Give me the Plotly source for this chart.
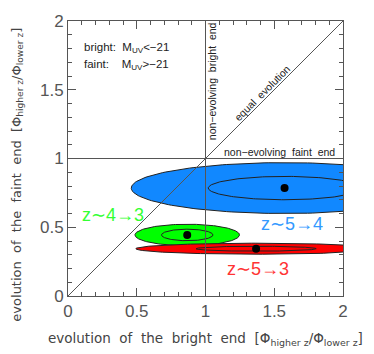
import numpy as np
import plotly.graph_objects as go

# data
series = ["z~5→4", "z~4→3", "z~5→3"]
center_x = [1.575, 0.867, 1.368]
center_y = [0.785, 0.444, 0.344]
outer_hw = [1.115, 0.38, 0.875]
outer_hh = [0.185, 0.078, 0.040]
inner_hw = [0.555, 0.187, 0.437]
inner_hh = [0.085, 0.042, 0.018]
fill_colors = ["#1188ff", "#00ff00", "#ff0000"]
label_colors = ["#3399ff", "#33ff33", "#ff3333"]
label_x = [1.63, 0.326, 1.38]
label_y = [0.524, 0.589, 0.196]

ref_x = [0, 2]
ref_y = [0, 2]
tick_vals = [0, 0.5, 1, 1.5, 2]
tick_text = ["0", "0.5", "1", "1.5", "2"]

font = "Liberation Sans"
title_font = "DejaVu Sans"
fig = go.Figure()

t = np.linspace(0, 2 * np.pi, 200)
for i in range(len(series)):
    fig.add_trace(go.Scatter(
        x=center_x[i] + outer_hw[i] * np.cos(t),
        y=center_y[i] + outer_hh[i] * np.sin(t),
        mode="lines", fill="toself", fillcolor=fill_colors[i],
        line=dict(color="#222222", width=1), hoverinfo="skip", showlegend=False))
    fig.add_trace(go.Scatter(
        x=center_x[i] + inner_hw[i] * np.cos(t),
        y=center_y[i] + inner_hh[i] * np.sin(t),
        mode="lines", line=dict(color="#222222", width=1),
        hoverinfo="skip", showlegend=False))

# reference lines
fig.add_trace(go.Scatter(x=ref_x, y=ref_y, mode="lines",
                         line=dict(color="#555555", width=1), showlegend=False))
fig.add_trace(go.Scatter(x=[1, 1], y=ref_y, mode="lines",
                         line=dict(color="#555555", width=1), showlegend=False))
fig.add_trace(go.Scatter(x=ref_x, y=[1, 1], mode="lines",
                         line=dict(color="#555555", width=1), showlegend=False))

fig.add_trace(go.Scatter(x=center_x, y=center_y, mode="markers",
                         marker=dict(color="black", size=8), showlegend=False))

ann = []
for i in range(len(series)):
    ann.append(dict(x=label_x[i], y=label_y[i], xref="x", yref="y",
                    text=series[i].replace("~", "∼"), showarrow=False,
                    font=dict(family=font, size=18, color=label_colors[i])))

ann += [
    dict(x=0.1, y=1.805, xref="x", yref="y", xanchor="left",
         text="bright:  M<sub>UV</sub><−21", showarrow=False,
         font=dict(family=font, size=11.5, color="#222")),
    dict(x=0.1, y=1.68, xref="x", yref="y", xanchor="left",
         text="faint:    M<sub>UV</sub>>−21", showarrow=False,
         font=dict(family=font, size=11.5, color="#222")),
    dict(x=1.045, y=1.56, xref="x", yref="y", textangle=-90,
         text="non−evolving  bright  end", showarrow=False,
         font=dict(family=font, size=10.5, color="#222")),
    dict(x=1.54, y=1.05, xref="x", yref="y",
         text="non−evolving  faint  end", showarrow=False,
         font=dict(family=font, size=10.5, color="#222")),
    dict(x=1.41, y=1.48, xref="x", yref="y", textangle=-45,
         text="equal  evolution", showarrow=False,
         font=dict(family=font, size=10.5, color="#222")),
    dict(x=0.5, y=-0.195, xref="paper", yref="paper",
         text="evolution  of  the  bright  end  [Φ<sub>higher z</sub>/Φ<sub>lower z</sub>]",
         showarrow=False, font=dict(family=title_font, size=13.5, color="#444")),
    dict(x=-0.225, y=0.44, xref="paper", yref="paper", textangle=-90,
         text="evolution  of  the  faint  end  [Φ<sub>higher z</sub>/Φ<sub>lower z</sub>]",
         showarrow=False, font=dict(family=title_font, size=13, color="#444")),
]

axis_common = dict(range=[0, 2], showgrid=False, zeroline=False, automargin=False,
                   showline=True, linecolor="#555555", linewidth=1, mirror="allticks",
                   ticks="inside", ticklen=8, tickcolor="#555555", tickwidth=1,
                   tickvals=tick_vals, ticktext=tick_text,
                   minor=dict(ticks="inside", ticklen=4, dtick=0.1, tickcolor="#555555"),
                   tickfont=dict(family=font, size=17, color="#555"))

fig.update_layout(
    width=366, height=346,
    margin=dict(l=60, r=31, t=13, b=58, autoexpand=False),
    plot_bgcolor="white", paper_bgcolor="white",
    xaxis=dict(axis_common),
    yaxis=dict(axis_common),
    annotations=ann,
)
fig.write_html("out.html")
